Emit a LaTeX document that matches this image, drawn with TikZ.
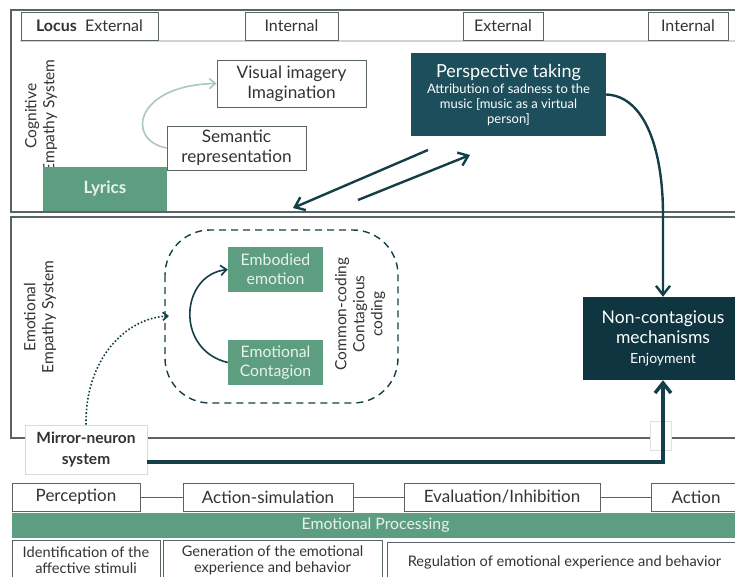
\documentclass[tikz,border=0pt]{standalone}
\usepackage{fontspec}
\setmainfont{Lato}
\usetikzlibrary{arrows.meta,calc}
\definecolor{cgreen}{HTML}{5E9E80}
\definecolor{cteal}{HTML}{1D4E5B}
\definecolor{cdark}{HTML}{0E3540}
\definecolor{carrow}{HTML}{143F48}
\definecolor{clight}{HTML}{A9C9BF}
\definecolor{cgray}{HTML}{5A6466}
\definecolor{ctxt}{HTML}{333333}
\definecolor{cpale}{HTML}{E8F2EC}
\tikzset{
  wbox/.style={draw=cgray, line width=0.9pt, fill=white, inner sep=0pt, align=center, text=ctxt},
  gbox/.style={fill=cgreen, draw=none, inner sep=0pt, align=center, text=cpale},
  hdr/.style={wbox, minimum height=28, font=\fontsize{16}{18}\selectfont},
  bottomrow/.style={wbox, minimum height=28, font=\fontsize{17}{19}\selectfont},
  procbox/.style={wbox, minimum height=40, font=\fontsize{14.6}{16}\selectfont},
  panel/.style={draw=cgray, line width=1.2pt},
  darrow/.style={draw=carrow, line width=2.4pt, -{Straight Barb[length=9pt,width=14pt]}},
  sidelabel/.style={rotate=90, align=center, text=ctxt, font=\fontsize{15.5}{18}\selectfont}
}
\begin{document}
\begin{tikzpicture}[x=1pt,y=-1pt]
\useasboundingbox (0,0) rectangle (735,577);
\clip (0,0) rectangle (735,577);
\fill[white] (0,0) rectangle (735,577);
% panels
\draw[panel] (11,10) rectangle (745,212);
\draw[panel] (11,217) rectangle (745,438);
\draw[gray!35, line width=1.5pt] (20,41) -- (735,41);
% header
\node[hdr, minimum width=137] (hlocus) at (89.5,26) {\textbf{Locus}\ \ External};
\node[hdr, minimum width=93] (hint1) at (291.5,26) {Internal};
\node[hdr, minimum width=80] (hext2) at (503,26) {External};
\node[hdr, minimum width=80] (hint2) at (688,26) {Internal};
% cognitive
\node[sidelabel] (coglab) at (41,116) {Cognitive\\Empathy System};
\node[gbox, minimum width=124, minimum height=44, font=\fontsize{17}{19}\selectfont\bfseries] (lyrics) at (105,189) {Lyrics};
\node[wbox, minimum width=149, minimum height=47, font=\fontsize{17.2}{20}\selectfont] (visual) at (291.5,83.5) {Visual imagery\\Imagination};
\node[wbox, minimum width=139, minimum height=44, font=\fontsize{17.2}{20}\selectfont] (semantic) at (236.5,148) {Semantic\\representation};
\node[fill=cteal, inner sep=0pt, minimum width=195, minimum height=83, align=center, text=white, font=\fontsize{13}{15}\selectfont] (persp) at (508.5,94.5)
  {\fontsize{18}{20}\selectfont Perspective taking\\[1pt]\fontsize{13}{15}\selectfont Attribution of sadness to the\\music [music as a virtual\\person]};
\draw[clight, line width=1.6pt, -{Straight Barb[length=6pt,width=10pt]}] (semantic.west) .. controls (125,140) and (135,85) .. (visual.west);
% arrows between panels
\coordinate (a1s) at (428,150);
\coordinate (a1e) at (293,208);
\coordinate (a2s) at (358,200);
\coordinate (a2e) at (470,155);
\draw[darrow] (a1s) -- (a1e);
\draw[darrow] (a2s) -- (a2e);
% emotional
\node[sidelabel] (emolab) at (40,317) {Emotional\\Empathy System};
\draw[carrow, line width=1.4pt, dash pattern=on 7pt off 5pt, rounded corners=45] (165,230) rectangle (398,403);
\node[gbox, minimum width=95, minimum height=45, font=\fontsize{15.8}{19}\selectfont] (embodied) at (275.5,269.5) {Embodied\\emotion};
\node[gbox, minimum width=95, minimum height=45, font=\fontsize{15.8}{19}\selectfont] (contagion) at (275.5,362.5) {Emotional\\Contagion};
\node[sidelabel] (cclab) at (360,314) {Common-coding\\Contagious\\coding};
\draw[carrow, line width=1.6pt, -{Straight Barb[length=6pt,width=10pt]}] (contagion.west) .. controls (175,350) and (180,275) .. (embodied.west);
\node[fill=cdark, inner sep=0pt, minimum width=160, minimum height=83, align=center, text=white, font=\fontsize{17.5}{20}\selectfont] (noncont) at (663,338.5)
  {Non-contagious\\mechanisms\\\fontsize{14}{16}\selectfont Enjoyment};
\draw[darrow] (persp.east) .. controls (645,96) and (663,150) .. (663,215) -- (noncont.north);
% mirror neuron
\node[draw=gray!30, fill=white, line width=0.8pt, minimum width=122, minimum height=49, inner sep=0pt, align=center, text=ctxt, font=\fontsize{15.5}{21}\selectfont\bfseries] (mirror) at (86,449.5) {Mirror-neuron\\system};
\draw[carrow, line width=1.6pt, dotted, -{Straight Barb[length=5pt,width=8pt]}] (mirror.north) .. controls (85,360) and (125,318) .. (169,316);
\node[draw=gray!25, fill=white, minimum width=21, minimum height=29, inner sep=0pt] (gap) at (660.5,435.5) {};
\coordinate (mstart) at (147,462);
\draw[darrow, line width=3.5pt, -{Straight Barb[length=10pt,width=16pt]}] (mstart) -| (noncont.south);
% bottom row
\node[bottomrow, minimum width=128] (perc) at (76,497) {Perception};
\node[bottomrow, minimum width=170] (actsim) at (268,497) {Action-simulation};
\node[bottomrow, minimum width=196] (evalinh) at (502,497) {Evaluation/Inhibition};
\node[bottomrow, minimum width=90] (action) at (696,497) {Action};
\draw[cgray, line width=0.9pt] (perc) -- (actsim);
\draw[cgray, line width=0.9pt] (actsim) -- (evalinh);
\draw[cgray, line width=0.9pt] (evalinh) -- (action);
\node[gbox, minimum width=727, minimum height=25, font=\fontsize{15.8}{18}\selectfont] (proc) at (375.5,525.5) {Emotional Processing};
\node[procbox, minimum width=148] (ident) at (86,560) {Identification of the\\affective stimuli};
\node[procbox, minimum width=219] (gener) at (272.5,560) {Generation of the emotional\\experience and behavior};
\node[procbox, minimum width=355] (regul) at (564.5,562) {Regulation of emotional experience and behavior};
\end{tikzpicture}
\end{document}
